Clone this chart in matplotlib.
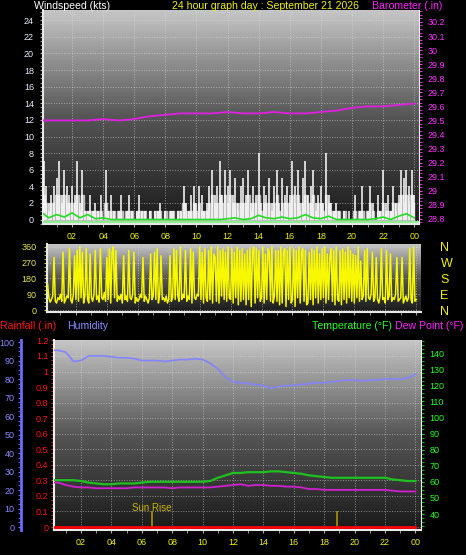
import numpy as np
import matplotlib
matplotlib.use('Agg')
import matplotlib.pyplot as plt
from matplotlib.colors import LinearSegmentedColormap
from matplotlib.ticker import MultipleLocator

plt.rcParams['font.family'] = ['Liberation Sans', 'DejaVu Sans']

# ---------------- data ----------------
# wind, 10 minute samples (kts)
wind_gust = [3, 7, 4, 2, 3, 4,  5, 7, 3, 6, 4, 3,  4, 3, 7, 2, 6, 1,
             1, 3, 1, 2, 1, 3,  0, 6, 1, 3, 1, 0,  1, 3, 0, 1, 3, 1,
             0, 1, 3, 1, 1, 0,  1, 0, 1, 1, 2, 0,  1, 0, 1, 1, 0, 1,
             1, 4, 2, 1, 3, 4,  2, 4, 3, 1, 2, 4,  6, 3, 4, 7, 3, 6,
             4, 6, 3, 5, 2, 4,  5, 3, 6, 2, 4, 3,  8, 2, 4, 3, 5, 2,
             4, 6, 2, 5, 3, 4,  3, 7, 4, 6, 2, 5,  7, 3, 4, 6, 2, 3,
             4, 2, 8, 3, 2, 1,  2, 1, 0, 1, 0, 1,  0, 3, 0, 1, 4, 0,
             1, 4, 2, 0, 3, 1,  6, 2, 3, 1, 4, 2,  3, 6, 5, 6, 4, 6, 3]
wind_speed = [1, 3, 2, 1, 2, 2,  3, 3, 2, 3, 2, 2,  2, 2, 3, 1, 3, 1,
              1, 1, 1, 1, 1, 1,  0, 2, 1, 1, 1, 0,  1, 1, 0, 1, 1, 1,
              0, 1, 1, 1, 1, 0,  1, 0, 1, 1, 1, 0,  1, 0, 1, 1, 0, 1,
              1, 2, 1, 1, 1, 2,  1, 2, 1, 1, 1, 2,  3, 2, 2, 3, 2, 3,
              2, 3, 2, 2, 1, 2,  2, 2, 3, 1, 2, 2,  3, 1, 2, 2, 2, 1,
              2, 3, 1, 2, 2, 2,  2, 3, 2, 3, 1, 2,  3, 2, 2, 3, 1, 2,
              2, 1, 3, 2, 1, 1,  1, 1, 0, 1, 0, 0,  0, 1, 0, 1, 1, 0,
              1, 2, 1, 0, 1, 1,  2, 1, 1, 1, 2, 1,  2, 3, 2, 3, 2, 3, 2]
# wind direction, 5 minute samples (degrees)
wind_dir = [60, 90, 150, 70, 45, 60, 80, 300, 50, 40, 70, 60,
            90, 50, 330, 40, 60, 80, 70, 350, 60, 40, 90, 310,
            60, 340, 50, 360, 70, 330, 40, 80, 350, 60, 40, 320,
            70, 50, 90, 340, 60, 80, 45, 350, 70, 60, 100, 50,
            300, 60, 350, 40, 330, 360, 70, 340, 50, 80, 60, 90,
            40, 310, 60, 80, 50, 340, 70, 60, 90, 330, 40, 70,
            50, 60, 90, 70, 300, 50, 80, 60, 40, 70, 320, 60,
            80, 330, 60, 350, 40, 90, 310, 60, 70, 50, 80, 40,
            60, 310, 50, 70, 350, 60, 340, 80, 50, 360, 60, 90,
            70, 340, 50, 80, 60, 350, 40, 330, 70, 60, 90, 80,
            360, 60, 330, 40, 350, 70, 50, 340, 60, 360, 40, 320,
            300, 50, 360, 40, 340, 80, 350, 60, 330, 50, 360, 70,
            60, 350, 40, 330, 70, 360, 30, 340, 50, 350, 60, 320,
            30, 340, 60, 350, 20, 330, 360, 40, 350, 70, 340, 50,
            70, 360, 40, 320, 60, 350, 330, 50, 360, 40, 80, 340,
            50, 340, 30, 360, 40, 330, 350, 20, 340, 60, 360, 40,
            60, 350, 20, 340, 70, 360, 40, 330, 350, 50, 340, 30,
            40, 330, 60, 350, 30, 340, 70, 360, 40, 320, 60, 350,
            70, 360, 40, 320, 60, 300, 350, 50, 340, 30, 360, 60,
            50, 340, 30, 350, 60, 330, 40, 360, 70, 340, 50, 320,
            40, 310, 70, 360, 50, 280, 60, 80, 340, 50, 350, 70,
            60, 90, 330, 50, 70, 300, 60, 40, 80, 350, 60, 70,
            40, 340, 60, 80, 320, 50, 70, 60, 90, 300, 50, 60,
            70, 300, 40, 60, 80, 50, 70, 350, 60, 40, 360, 50, 60]
# half hourly series
wind_avg = [0.9, 0.2, 0.6, 0.3, 0.8, 0.2, 0.6, 0.1, 0.2, 0, 0, 0, 0, 0, 0, 0,
            0, 0, 0, 0, 0, 0, 0, 0, 0.1, 0.2, 0, 0.1, 0.5, 0.2, 0.1, 0.3,
            0.1, 0.2, 0.6, 0.2, 0.1, 0.4, 0, 0, 0, 0, 0, 0.1, 0.3, 0, 0.4, 0.7, 0.2]
humidity = [95.5, 95.5, 94.5, 89.5, 90, 92.5, 92.5, 92.5, 92, 91.5, 91.5, 91,
            90, 90, 90, 89.5, 90, 90.5, 90.5, 91, 90.5, 88.5, 85.5, 81,
            78.5, 78, 77.5, 77, 76.5, 75, 76, 76.5, 76.5, 77, 77.5, 78,
            78, 78.5, 79, 79.5, 79.5, 79, 79.5, 79.5, 80, 80, 80, 80.5, 82.5]
temperature = [61, 61, 61, 61, 60.5, 59.5, 59, 58.5, 58.5, 59, 59, 59,
               59.5, 60, 60, 60, 60, 60, 60, 60, 60, 60.5, 62.5, 64,
               65.5, 65.5, 66, 66, 66, 66.5, 66.5, 66, 65.5, 65, 64, 63.5,
               63, 62.5, 62.5, 62.5, 62.5, 62.5, 62.5, 62.5, 62.5, 61.5, 61, 60.5, 60.5]
dew_point = [59.5, 59.5, 58, 57, 56.5, 56.5, 56, 56, 56, 56, 56, 56.5,
             56.5, 56.5, 56.5, 56.5, 56, 56.5, 56.5, 56.5, 56.5, 56.5, 57, 57.5,
             58, 58.5, 57.5, 58, 58, 57.5, 57.5, 57, 57, 56.5, 55.5, 55.5,
             55, 55, 55, 55, 55, 55, 55, 55, 55, 54.5, 54, 54, 54]
rainfall = [0] * 49
# hourly barometer (inHg)
barometer = [29.50, 29.50, 29.50, 29.50, 29.51, 29.50, 29.51, 29.53, 29.54,
             29.55, 29.55, 29.55, 29.56, 29.55, 29.55, 29.56, 29.55, 29.55,
             29.56, 29.57, 29.59, 29.60, 29.60, 29.61, 29.62]

sun_rise, sun_set = 6.67, 18.84
hour_ticks = list(range(2, 25, 2))
hour_labels = ['%02d' % (h % 24) for h in hour_ticks]

t10 = np.arange(len(wind_gust)) / 6
t5 = np.arange(len(wind_dir)) / 12
t30 = np.arange(len(humidity)) / 2
t60 = np.arange(len(barometer))

# ---------------- style ----------------
YEL = '#f0f000'
cmap = LinearSegmentedColormap.from_list('bg', ['#1a1a1a', '#555555', '#c6c6c6'])
grad = np.linspace(1, 0, 256).reshape(-1, 1)
FS = 6.5

W, H = 466, 555
fig = plt.figure(figsize=(W / 100, H / 100), dpi=100, facecolor='black')


def px_axes(x0, y0, x1, y1):
    return fig.add_axes([x0 / W, 1 - y1 / H, (x1 - x0) / W, (y1 - y0) / H])


def backdrop(ax):
    ax.set_facecolor('black')
    ax.imshow(grad, extent=(0, 1, 0, 1), transform=ax.transAxes,
              aspect='auto', cmap=cmap, zorder=0, interpolation='bilinear')
    ax.grid(True, which='major', color='#e0e0e0', ls=':', lw=0.7, alpha=0.55)
    for s in ['top', 'right']:
        ax.spines[s].set_visible(False)
    for s in ['left', 'bottom']:
        ax.spines[s].set_color('#e8e8e8')
        ax.spines[s].set_linewidth(1.5)


# ---------------- top: wind speed + barometer ----------------
ax1 = px_axes(43, 10, 419, 224)
backdrop(ax1)
ax1.fill_between(t10, 0, wind_speed, step='mid', color='#bdbdbd', zorder=2)
ax1.vlines(t10, 0, wind_gust, color='white', lw=1.1, zorder=3)
ax1.axhline(-0.35, color='#90ee90', lw=1.5, zorder=3)
ax1.plot(t30, wind_avg, color='#22dd22', lw=1.2, zorder=4)
ax1.set_xlim(0.13, 24.31)
ax1.set_ylim(-0.54, 25.24)
ax1.set_yticks(list(range(0, 25, 2)))
ax1.yaxis.set_minor_locator(MultipleLocator(0.5))
ax1.set_xticks(hour_ticks)
ax1.set_xticklabels(hour_labels)
ax1.xaxis.set_minor_locator(MultipleLocator(1))
ax1.tick_params(axis='y', which='both', colors='#b0b0b0', labelcolor='#e4ecff',
                labelsize=FS, length=2.5, pad=4)
ax1.tick_params(axis='x', which='both', colors='#b0b0b0', labelcolor=YEL,
                labelsize=FS, length=2, pad=4)

ax1b = ax1.twinx()
ax1b.plot(t60, barometer, color='#e020e0', lw=1.3, zorder=5)
ax1b.set_ylim(28.764, 30.285)
ax1b.set_yticks([28.8 + 0.1 * i for i in range(15)])
ax1b.set_yticklabels(['%g' % round(28.8 + 0.1 * i, 1) for i in range(15)])
ax1b.yaxis.set_minor_locator(MultipleLocator(0.025))
ax1b.tick_params(axis='y', which='both', colors='#ff30ff', labelcolor='#ff30ff',
                 labelsize=FS, length=2, pad=4)
for s in ['top', 'left', 'bottom']:
    ax1b.spines[s].set_visible(False)
ax1b.spines['right'].set_color('#f0f0f0')

# ---------------- middle: wind direction ----------------
ax2 = px_axes(47, 244, 421, 312)
backdrop(ax2)
ax2.plot(t5, wind_dir, color='#f8f800', lw=1.1, zorder=3)
ax2.set_xlim(0.13, 24.31)
ax2.set_ylim(-11.4, 377)
ax2.set_yticks([0, 90, 180, 270, 360])
ax2.yaxis.set_minor_locator(MultipleLocator(22.5))
ax2.set_xticks(hour_ticks)
ax2.xaxis.set_minor_locator(MultipleLocator(1))
ax2.tick_params(axis='x', which='both', colors='#a0a0a0', labelbottom=False, length=2)
ax2.tick_params(axis='y', which='both', colors='#d8d820', labelcolor='#e6e640',
                labelsize=FS, length=2.5, pad=5)
ax2b = ax2.twinx()
ax2b.set_ylim(ax2.get_ylim())
ax2b.set_yticks([360, 270, 180, 90, 0])
ax2b.set_yticklabels(['N', 'W', 'S', 'E', 'N'])
ax2b.tick_params(axis='y', length=0, labelcolor=YEL, labelsize=9, pad=14)
for s in ax2b.spines.values():
    s.set_visible(False)

# ---------------- bottom: rain, humidity, temperature ----------------
ax3 = px_axes(54, 340, 421, 530)
backdrop(ax3)
ax3.spines['left'].set_color('#f0f0f0')
ax3.set_xlim(0.22, 24.37)
ax3.set_ylim(-0.019, 1.2026)
ax3.set_yticks([round(0.1 * i, 1) for i in range(13)])
ax3.set_yticklabels(['%g' % round(0.1 * i, 1) for i in range(13)])
ax3.yaxis.set_minor_locator(MultipleLocator(0.025))
ax3.tick_params(axis='y', which='both', colors='#ff2020', labelcolor='#ff1010',
                labelsize=FS, length=2, pad=2)
ax3.set_xticks(hour_ticks)
ax3.set_xticklabels(hour_labels)
ax3.xaxis.set_minor_locator(MultipleLocator(1))
ax3.tick_params(axis='x', which='both', colors='#b0b0b0', labelcolor=YEL,
                labelsize=FS, length=2, pad=4)
ax3.plot(t30, rainfall, color='#ff0000', lw=2.0, zorder=6)
ax3.vlines([sun_rise, sun_set], 0, 0.1, color='#a89400', lw=1.2, zorder=5)
ax3.text(sun_rise, 0.09, 'Sun Rise', color='#c8b400', fontsize=7,
         ha='center', va='bottom', zorder=6)

ax_t = ax3.twinx()
ax_t.plot(t30, temperature, color='#20c020', lw=1.6, zorder=4)
ax_t.plot(t30, dew_point, color='#d020d0', lw=1.3, zorder=4)
ax_t.set_ylim(30.06, 148.1)
ax_t.set_yticks(list(range(40, 150, 10)))
ax_t.yaxis.set_minor_locator(MultipleLocator(2.5))
ax_t.tick_params(axis='y', which='both', colors='#10e010', labelcolor='#20ff20',
                 labelsize=FS, length=2, pad=4)
for s in ['top', 'left', 'bottom']:
    ax_t.spines[s].set_visible(False)
ax_t.spines['right'].set_color('#f0f0f0')

ax_h = ax3.twinx()
ax_h.plot(t30, humidity, color='#8484ff', lw=1.2, zorder=4)
ax_h.set_ylim(-1.6, 101.1)
ax_h.set_yticks(list(range(0, 101, 10)))
ax_h.yaxis.set_minor_locator(MultipleLocator(2.5))
ax_h.yaxis.set_ticks_position('left')
ax_h.yaxis.set_label_position('left')
ax_h.spines['left'].set_position(('outward', 24))
ax_h.spines['left'].set_color('#6a6aff')
ax_h.spines['left'].set_linewidth(2)
for s in ['top', 'right', 'bottom']:
    ax_h.spines[s].set_visible(False)
ax_h.tick_params(axis='y', which='both', colors='#7070ff', labelcolor='#8a8aff',
                 labelsize=FS, length=2.5, pad=2)

# ---------------- titles ----------------
def ftext(x, y, s, color, **kw):
    fig.text(x / W, 1 - y / H, s, color=color, fontsize=7.6, va='center', **kw)


ftext(34, 6, 'Windspeed (kts)', 'white')
ftext(172, 6, '24 hour graph day : September 21 2026', YEL)
ftext(372, 6, 'Barometer (.in)', '#ff20ff')
ftext(0, 326, 'Rainfall (.in)', '#ff1010')
ftext(67, 326, 'Humidity', '#8a8aff')
ftext(312, 326, 'Temperature (\u00b0F)', '#20ff20')
ftext(463, 326, 'Dew Point (\u00b0F)', '#ff20ff', ha='right')

fig.savefig('out.png', dpi=100, facecolor='black')
